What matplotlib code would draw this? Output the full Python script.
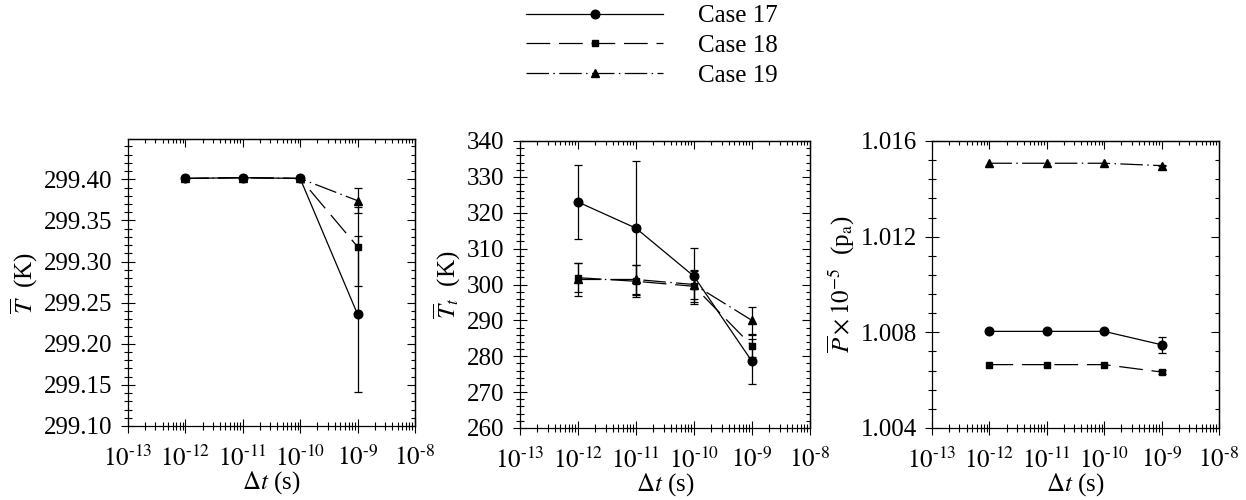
import matplotlib
matplotlib.use("Agg")
import matplotlib.pyplot as plt
import numpy as np
from matplotlib.lines import Line2D
from matplotlib.ticker import LogLocator, MultipleLocator, FuncFormatter, NullFormatter

plt.rcParams['font.family'] = ['Liberation Serif', 'DejaVu Serif']
plt.rcParams['mathtext.fontset'] = 'stix'
plt.rcParams['font.size'] = 18

# time step sizes (s)
dt = [1e-12, 1e-11, 1e-10, 1e-9]
cases = ["Case 17", "Case 18", "Case 19"]

# mean temperature (K)
T_mean = {
    "Case 17": [299.401, 299.402, 299.401, 299.236],
    "Case 18": [299.401, 299.402, 299.401, 299.318],
    "Case 19": [299.401, 299.402, 299.401, 299.374],
}
T_err = {
    "Case 17": [0.0, 0.0, 0.0, 0.095],
    "Case 18": [0.0, 0.0, 0.0, 0.048],
    "Case 19": [0.0, 0.0, 0.0, 0.015],
}

# mean translational temperature (K)
Tt_mean = {
    "Case 17": [323.0, 315.7, 302.3, 278.6],
    "Case 18": [301.9, 300.9, 299.5, 282.9],
    "Case 19": [301.4, 301.4, 300.0, 290.0],
}
Tt_err = {
    "Case 17": [10.3, 18.6, 7.8, 6.2],
    "Case 18": [4.0, 4.5, 4.3, 3.0],
    "Case 19": [4.6, 4.0, 4.0, 3.8],
}

# mean pressure x 1e-5 (Pa)
P_mean = {
    "Case 17": [1.00804, 1.00804, 1.00804, 1.00748],
    "Case 18": [1.00665, 1.00665, 1.00665, 1.00634],
    "Case 19": [1.01507, 1.01507, 1.01507, 1.01497],
}
P_err = {
    "Case 17": [0.0, 0.0, 0.0, 0.00033],
    "Case 18": [0.0, 0.0, 0.0, 0.0001],
    "Case 19": [0.0, 0.0, 0.0, 0.00003],
}

styles = {
    "Case 17": dict(marker='o', ms=6.2, ls='-'),
    "Case 18": dict(marker='s', ms=4.4, dashes=(19, 7)),
    "Case 19": dict(marker='^', ms=5.2, dashes=(18, 3.5, 1.2, 3.5)),
}
# case 17 goes on top where the curves coincide
layer = {"Case 17": 4, "Case 18": 3, "Case 19": 2}


def decade_label(v, pos):
    # hyphen instead of the wide math minus in the exponent
    return r'$10^{' + '\u2010' + '%d}$' % abs(round(np.log10(v)))


def draw_panel(ax, means, errs, ylim, major, minor, fmt, ylabel):
    for c in cases:
        st = dict(styles[c])
        dashes = st.pop('dashes', None)
        # no caps where there is no spread
        err = np.array(errs[c], dtype=float)
        err[err == 0] = np.nan
        line, caps, bars = ax.errorbar(dt, means[c], yerr=err, color='black', lw=0.9,
                                       capsize=3, elinewidth=0.9, capthick=0.9,
                                       zorder=layer[c], **st)
        if dashes is not None:
            line.set_dashes(dashes)
    ax.set_xscale('log')
    ax.set_xlim(1e-13, 1e-8)
    ax.set_ylim(*ylim)
    ax.xaxis.set_major_locator(LogLocator(base=10, numticks=10))
    ax.xaxis.set_minor_locator(LogLocator(base=10, subs=np.arange(2, 10), numticks=10))
    ax.xaxis.set_minor_formatter(NullFormatter())
    ax.xaxis.set_major_formatter(FuncFormatter(decade_label))
    ax.yaxis.set_major_locator(MultipleLocator(major))
    ax.yaxis.set_minor_locator(MultipleLocator(minor))
    ax.yaxis.set_major_formatter(FuncFormatter(lambda v, p: fmt % v))
    ax.tick_params(which='major', direction='inout', length=10, width=0.8, labelsize=18)
    ax.tick_params(which='minor', direction='inout', length=6, width=0.8)
    ax.tick_params(axis='x', which='major', pad=9)
    ax.tick_params(axis='y', which='major', pad=6)
    for s in ax.spines.values():
        s.set_linewidth(0.9)
    ax.set_xlabel(r'$\Delta t$ (s)', labelpad=-1)
    ax.set_ylabel(ylabel)

    # inward ticks on the top and right edges
    top = ax.secondary_xaxis('top')
    top.xaxis.set_major_locator(LogLocator(base=10, numticks=10))
    top.xaxis.set_minor_locator(LogLocator(base=10, subs=np.arange(2, 10), numticks=10))
    top.xaxis.set_major_formatter(NullFormatter())
    top.xaxis.set_minor_formatter(NullFormatter())
    top.tick_params(which='major', direction='in', length=6, width=0.8)
    top.tick_params(which='minor', direction='in', length=3, width=0.8)
    right = ax.secondary_yaxis('right')
    right.yaxis.set_major_locator(MultipleLocator(major))
    right.yaxis.set_minor_locator(MultipleLocator(minor))
    right.yaxis.set_major_formatter(NullFormatter())
    right.tick_params(which='major', direction='in', length=6, width=0.8)
    right.tick_params(which='minor', direction='in', length=3, width=0.8)
    for sec in (top, right):
        for s in sec.spines.values():
            s.set_linewidth(0.9)


fig = plt.figure(figsize=(12.46, 5.0), dpi=100)
ax1 = fig.add_axes([0.1027, 0.148, 0.2303, 0.574])
ax2 = fig.add_axes([0.4173, 0.144, 0.2327, 0.574])
ax3 = fig.add_axes([0.748, 0.144, 0.2303, 0.574])

draw_panel(ax1, T_mean, T_err, (299.10, 299.449), 0.05, 0.01, '%.2f', r'$\overline{T}$  (K)')
draw_panel(ax2, Tt_mean, Tt_err, (260, 340), 10, 2, '%d', r'$\overline{T}_t$  (K)')
draw_panel(ax3, P_mean, P_err, (1.004, 1.016), 0.004, 0.0008, '%.3f',
           r'$\overline{P}\times10^{-5}$  (p$_\mathrm{a}$)')
ax1.yaxis.set_label_coords(-0.305, 0.5)
ax2.yaxis.set_label_coords(-0.195, 0.5)
ax3.yaxis.set_label_coords(-0.26, 0.5)

handles = []
for c in cases:
    st = dict(styles[c])
    dashes = st.pop('dashes', None)
    h = Line2D([], [], color='black', lw=0.9, **st)
    if dashes is not None:
        h.set_dashes(dashes)
    handles.append(h)
fig.legend(handles, cases, loc='upper left', bbox_to_anchor=(0.408, 1.025), frameon=False,
           handlelength=5.5, handletextpad=1.4, labelspacing=0.28, borderpad=0.2,
           fontsize=18)

fig.savefig('out.png', dpi=100)
